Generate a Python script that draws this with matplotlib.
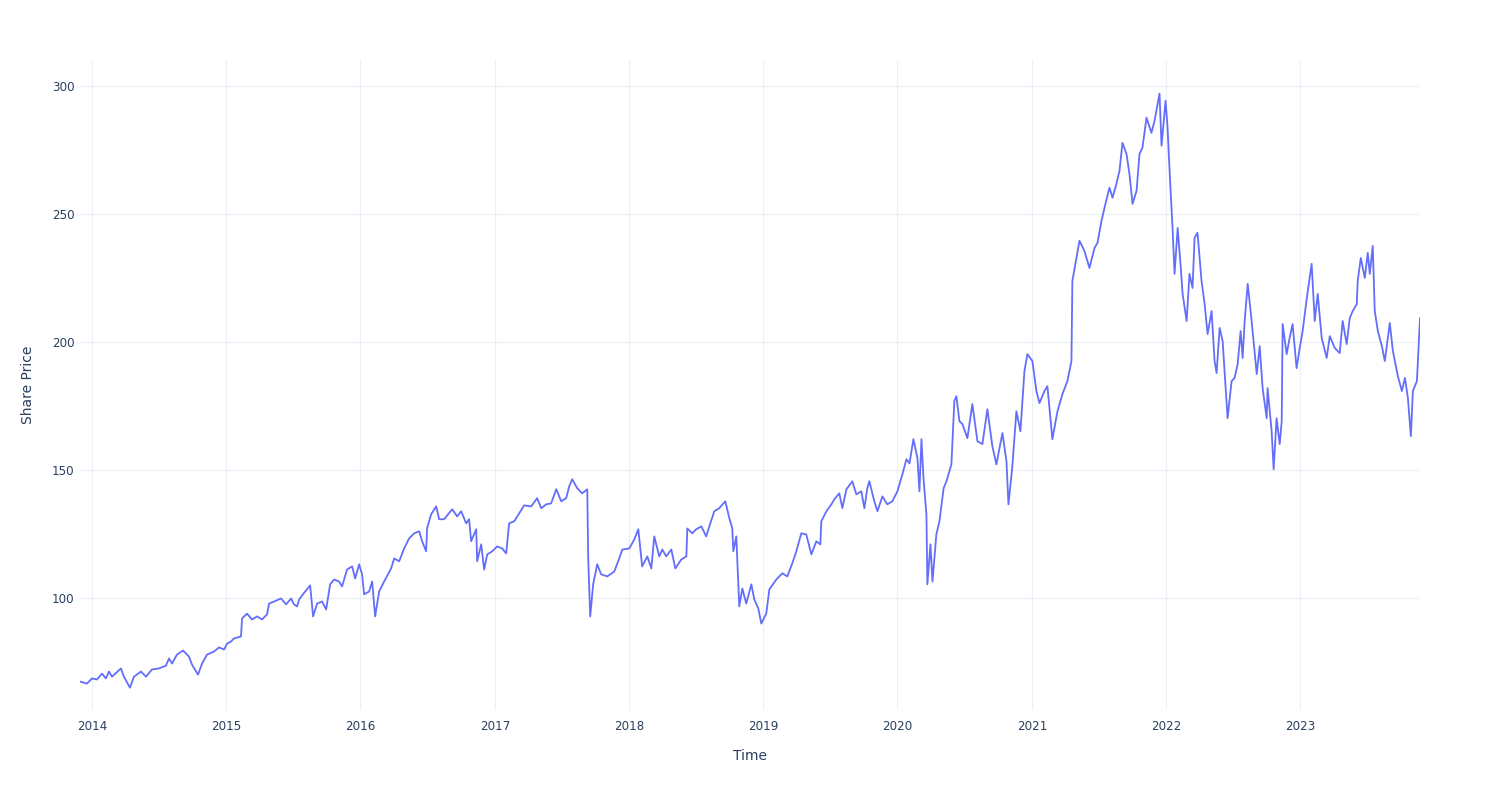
import matplotlib
matplotlib.use("Agg")
import matplotlib.dates as mdates
import matplotlib.pyplot as plt
import numpy as np
import pandas as pd


# ── Data ──────────────────────────────────────────────────────────────────────
# time in fractional years, price in currency units

time_years = [
    2013.911, 2013.963, 2014.000, 2014.037, 2014.075, 2014.104, 2014.127, 2014.149,
    2014.216, 2014.238, 2014.283, 2014.313, 2014.365, 2014.402, 2014.447, 2014.499,
    2014.551, 2014.574, 2014.596, 2014.633, 2014.678, 2014.723, 2014.745, 2014.790,
    2014.820, 2014.857, 2014.909, 2014.946, 2014.984, 2015.006, 2015.036, 2015.058,
    2015.110, 2015.118, 2015.155, 2015.192, 2015.230, 2015.267, 2015.304, 2015.319,
    2015.356, 2015.408, 2015.446, 2015.483, 2015.505, 2015.528, 2015.543, 2015.580,
    2015.625, 2015.647, 2015.677, 2015.714, 2015.744, 2015.774, 2015.804, 2015.841,
    2015.863, 2015.900, 2015.938, 2015.960, 2015.990, 2016.012, 2016.027, 2016.064,
    2016.087, 2016.109, 2016.139, 2016.176, 2016.228, 2016.251, 2016.288, 2016.325,
    2016.362, 2016.400, 2016.437, 2016.459, 2016.489, 2016.496, 2016.526, 2016.564,
    2016.586, 2016.623, 2016.683, 2016.720, 2016.750, 2016.787, 2016.809, 2016.824,
    2016.862, 2016.869, 2016.899, 2016.921, 2016.944, 2016.981, 2017.018, 2017.055,
    2017.085, 2017.107, 2017.145, 2017.182, 2017.219, 2017.271, 2017.316, 2017.346,
    2017.383, 2017.420, 2017.458, 2017.495, 2017.532, 2017.555, 2017.577, 2017.614,
    2017.651, 2017.689, 2017.696, 2017.711, 2017.733, 2017.763, 2017.793, 2017.838,
    2017.890, 2017.927, 2017.950, 2018.002, 2018.039, 2018.069, 2018.098, 2018.136,
    2018.166, 2018.188, 2018.225, 2018.248, 2018.277, 2018.315, 2018.345, 2018.389,
    2018.427, 2018.434, 2018.471, 2018.501, 2018.538, 2018.575, 2018.598, 2018.635,
    2018.672, 2018.717, 2018.747, 2018.769, 2018.777, 2018.799, 2018.821, 2018.844,
    2018.873, 2018.911, 2018.933, 2018.963, 2018.985, 2019.022, 2019.045, 2019.097,
    2019.142, 2019.179, 2019.216, 2019.246, 2019.283, 2019.320, 2019.358, 2019.395,
    2019.425, 2019.432, 2019.470, 2019.507, 2019.529, 2019.566, 2019.589, 2019.619,
    2019.663, 2019.693, 2019.730, 2019.753, 2019.775, 2019.790, 2019.827, 2019.850,
    2019.887, 2019.924, 2019.961, 2019.999, 2020.036, 2020.066, 2020.089, 2020.118,
    2020.148, 2020.163, 2020.178, 2020.193, 2020.215, 2020.222, 2020.245, 2020.260,
    2020.289, 2020.312, 2020.343, 2020.364, 2020.401, 2020.423, 2020.438, 2020.461,
    2020.483, 2020.520, 2020.557, 2020.595, 2020.632, 2020.669, 2020.706, 2020.736,
    2020.781, 2020.811, 2020.826, 2020.855, 2020.885, 2020.915, 2020.945, 2020.967,
    2021.004, 2021.034, 2021.057, 2021.094, 2021.116, 2021.153, 2021.191, 2021.228,
    2021.265, 2021.295, 2021.302, 2021.332, 2021.355, 2021.392, 2021.429, 2021.467,
    2021.489, 2021.519, 2021.541, 2021.578, 2021.601, 2021.630, 2021.653, 2021.675,
    2021.705, 2021.727, 2021.750, 2021.780, 2021.802, 2021.824, 2021.854, 2021.891,
    2021.914, 2021.951, 2021.966, 2021.996, 2022.011, 2022.026, 2022.048, 2022.063,
    2022.086, 2022.108, 2022.123, 2022.153, 2022.174, 2022.197, 2022.212, 2022.234,
    2022.264, 2022.287, 2022.309, 2022.339, 2022.361, 2022.376, 2022.399, 2022.421,
    2022.458, 2022.488, 2022.510, 2022.533, 2022.555, 2022.570, 2022.585, 2022.608,
    2022.637, 2022.675, 2022.697, 2022.719, 2022.749, 2022.756, 2022.786, 2022.801,
    2022.823, 2022.846, 2022.861, 2022.868, 2022.898, 2022.920, 2022.942, 2022.972,
    2022.995, 2023.017, 2023.047, 2023.084, 2023.107, 2023.129, 2023.159, 2023.196,
    2023.219, 2023.256, 2023.293, 2023.315, 2023.345, 2023.368, 2023.390, 2023.420,
    2023.427, 2023.450, 2023.480, 2023.502, 2023.517, 2023.539, 2023.554, 2023.577,
    2023.607, 2023.629, 2023.666, 2023.689, 2023.726, 2023.756, 2023.779, 2023.801,
    2023.823, 2023.838, 2023.868, 2023.891,
]

share_price = [
    67.6, 66.8, 68.8, 68.4, 70.7, 68.8, 71.5, 69.5,
    72.7, 69.5, 65.2, 69.5, 71.5, 69.5, 72.3, 72.7,
    73.8, 76.6, 74.6, 78.1, 79.7, 77.3, 74.2, 70.3,
    74.6, 78.1, 79.3, 80.9, 80.1, 82.4, 83.2, 84.4,
    85.2, 92.2, 94.1, 91.8, 93.0, 91.8, 93.8, 98.0,
    98.8, 100.0, 97.7, 100.0, 97.7, 96.9, 99.6, 102.2,
    105.1, 93.0, 98.0, 98.8, 95.7, 105.5, 107.4, 106.6,
    104.7, 111.3, 112.5, 107.8, 113.3, 109.4, 101.6, 102.7,
    106.6, 93.0, 102.7, 106.6, 111.7, 115.6, 114.5, 119.5,
    123.4, 125.4, 126.2, 122.3, 118.4, 127.3, 132.8, 135.9,
    130.9, 130.9, 134.8, 132.0, 134.0, 129.3, 130.9, 122.3,
    127.0, 114.5, 121.1, 111.3, 117.2, 118.4, 120.3, 119.5,
    117.6, 129.3, 130.1, 133.2, 136.3, 135.9, 139.1, 135.2,
    136.7, 137.1, 142.6, 137.9, 139.1, 143.8, 146.5, 143.0,
    141.0, 142.6, 115.6, 93.0, 105.5, 113.3, 109.4, 108.6,
    110.5, 115.6, 119.1, 119.5, 123.0, 127.0, 112.5, 116.4,
    111.7, 124.2, 116.4, 119.1, 116.4, 119.1, 111.7, 115.2,
    116.4, 127.3, 125.4, 127.0, 128.1, 124.2, 128.1, 134.0,
    135.2, 137.9, 131.3, 127.3, 118.4, 124.2, 96.9, 103.9,
    98.0, 105.5, 99.6, 96.1, 90.2, 94.1, 103.5, 107.4,
    109.8, 108.6, 113.7, 118.4, 125.4, 125.0, 117.2, 122.3,
    121.1, 130.1, 134.0, 136.7, 138.7, 141.0, 135.2, 142.6,
    145.7, 140.6, 141.8, 135.2, 143.0, 145.7, 137.9, 134.0,
    139.8, 136.7, 137.9, 141.8, 148.4, 154.3, 152.7, 162.1,
    154.7, 141.8, 162.1, 146.9, 132.8, 105.5, 121.1, 106.6,
    125.0, 130.1, 143.0, 145.7, 152.3, 177.0, 178.9, 169.1,
    168.0, 162.5, 175.8, 161.3, 160.2, 173.8, 159.4, 152.3,
    164.5, 153.5, 136.7, 151.6, 173.0, 165.2, 188.7, 195.3,
    192.6, 180.9, 176.2, 180.9, 182.8, 162.1, 173.0, 179.7,
    184.8, 192.6, 223.8, 232.8, 239.5, 235.5, 228.9, 236.7,
    238.7, 247.3, 252.3, 260.2, 256.3, 261.7, 266.8, 277.7,
    273.4, 265.6, 253.9, 259.0, 273.4, 275.8, 287.5, 281.6,
    286.3, 296.9, 276.6, 294.1, 283.6, 266.8, 244.5, 226.6,
    244.5, 230.0, 218.8, 208.2, 226.6, 221.1, 240.6, 242.6,
    223.8, 214.8, 203.1, 212.1, 192.6, 187.9, 205.5, 200.4,
    170.3, 184.8, 186.0, 191.4, 204.3, 193.8, 208.2, 222.7,
    208.2, 187.5, 198.4, 182.0, 170.3, 182.0, 165.2, 150.4,
    170.3, 160.2, 169.1, 207.0, 195.3, 201.6, 207.0, 189.8,
    197.7, 204.3, 216.8, 230.5, 208.2, 218.8, 201.6, 193.8,
    202.3, 197.7, 195.7, 208.2, 199.2, 209.4, 212.1, 214.8,
    223.8, 232.8, 225.0, 234.8, 226.6, 237.5, 212.1, 204.3,
    198.4, 192.6, 207.4, 196.5, 186.7, 180.9, 186.0, 178.1,
    163.3, 180.9, 184.8, 209.4,
]

y_ticks = [100, 150, 200, 250, 300]

LINE_COLOR = "#636EFA"
GRID_COLOR = "#EBF0F8"
TEXT_COLOR = "#2a3f5f"


def years_to_dates(years):
    base = pd.Timestamp("2014-01-01")
    return base + pd.to_timedelta((np.asarray(years) - 2014.0) * 365.25, unit="D")


dates = years_to_dates(time_years)

# ── Figure ────────────────────────────────────────────────────────────────────

plt.rcParams["font.family"] = ["DejaVu Sans"]

fig = plt.figure(figsize=(15, 8), dpi=100)
ax = fig.add_axes([80 / 1500, 90 / 800, 1340 / 1500, 650 / 800])

ax.plot(dates, share_price, color=LINE_COLOR, linewidth=1.3)

ax.set_xlim(dates[0], dates[-1])
ax.set_ylim(56.5, 310)
ax.set_yticks(y_ticks)
ax.xaxis.set_major_locator(mdates.YearLocator())
ax.xaxis.set_major_formatter(mdates.DateFormatter("%Y"))

ax.grid(True, color=GRID_COLOR, linewidth=0.8)
ax.set_axisbelow(True)
for spine in ax.spines.values():
    spine.set_visible(False)

ax.tick_params(length=0, labelsize=8.6, colors=TEXT_COLOR)
ax.tick_params(axis="x", pad=7)
ax.tick_params(axis="y", pad=4)
ax.set_xlabel("Time", fontsize=10, color=TEXT_COLOR, labelpad=12)
ax.set_ylabel("Share Price", fontsize=10, color=TEXT_COLOR, labelpad=12)

fig.savefig("out.png", dpi=100)
